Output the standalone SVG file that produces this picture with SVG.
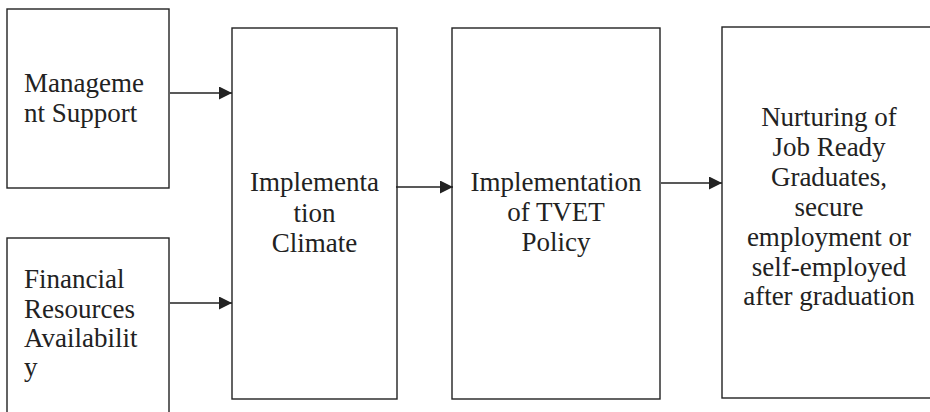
<svg xmlns="http://www.w3.org/2000/svg" width="930" height="412" viewBox="0 0 930 412">
  <style>
    .box { fill: #ffffff; stroke: #222222; stroke-width: 1.4; }
    .lbl { font-family: "Liberation Serif", "Times New Roman", serif; font-size: 27px; fill: #222222; }
    .mid { text-anchor: middle; }
    .edge { stroke: #222222; stroke-width: 1.5; fill: none; }
  </style>
  <defs>
    <marker id="arrowhead" viewBox="0 0 13 13" refX="13" refY="6.5" markerWidth="13" markerHeight="13" markerUnits="userSpaceOnUse" orient="auto">
      <polygon points="0,0 13,6.5 0,13" fill="#222222"/>
    </marker>
  </defs>

  <g id="management-support">
    <rect class="box" x="7" y="9" width="162" height="179"/>
    <text class="lbl" x="24" y="92">Manageme</text>
    <text class="lbl" x="24" y="122">nt Support</text>
  </g>

  <g id="financial-resources">
    <rect class="box" x="7" y="238" width="162" height="190"/>
    <text class="lbl" x="24" y="288">Financial</text>
    <text class="lbl" x="24" y="318">Resources</text>
    <text class="lbl" x="24" y="347">Availabilit</text>
    <text class="lbl" x="24" y="376">y</text>
  </g>

  <g id="implementation-climate">
    <rect class="box" x="232" y="28" width="165" height="371"/>
    <text class="lbl mid" x="314.5" y="191">Implementa</text>
    <text class="lbl mid" x="314.5" y="222">tion</text>
    <text class="lbl mid" x="314.5" y="252">Climate</text>
  </g>

  <g id="tvet-policy">
    <rect class="box" x="452" y="28" width="208" height="371"/>
    <text class="lbl mid" x="556" y="191">Implementation</text>
    <text class="lbl mid" x="556" y="221">of TVET</text>
    <text class="lbl mid" x="556" y="251">Policy</text>
  </g>

  <g id="job-ready-graduates">
    <rect class="box" x="722" y="27" width="230" height="371"/>
    <text class="lbl mid" x="829" y="126">Nurturing of</text>
    <text class="lbl mid" x="829" y="156">Job Ready</text>
    <text class="lbl mid" x="829" y="186">Graduates,</text>
    <text class="lbl mid" x="829" y="216">secure</text>
    <text class="lbl mid" x="829" y="246">employment or</text>
    <text class="lbl mid" x="829" y="276">self-employed</text>
    <text class="lbl mid" x="829" y="305">after graduation</text>
  </g>

  <g id="connectors">
    <line class="edge" x1="170" y1="93" x2="232" y2="93" marker-end="url(#arrowhead)"/>
    <line class="edge" x1="170" y1="303" x2="232" y2="303" marker-end="url(#arrowhead)"/>
    <line class="edge" x1="396" y1="187" x2="453" y2="187" marker-end="url(#arrowhead)"/>
    <line class="edge" x1="661" y1="183" x2="722" y2="183" marker-end="url(#arrowhead)"/>
  </g>
</svg>
